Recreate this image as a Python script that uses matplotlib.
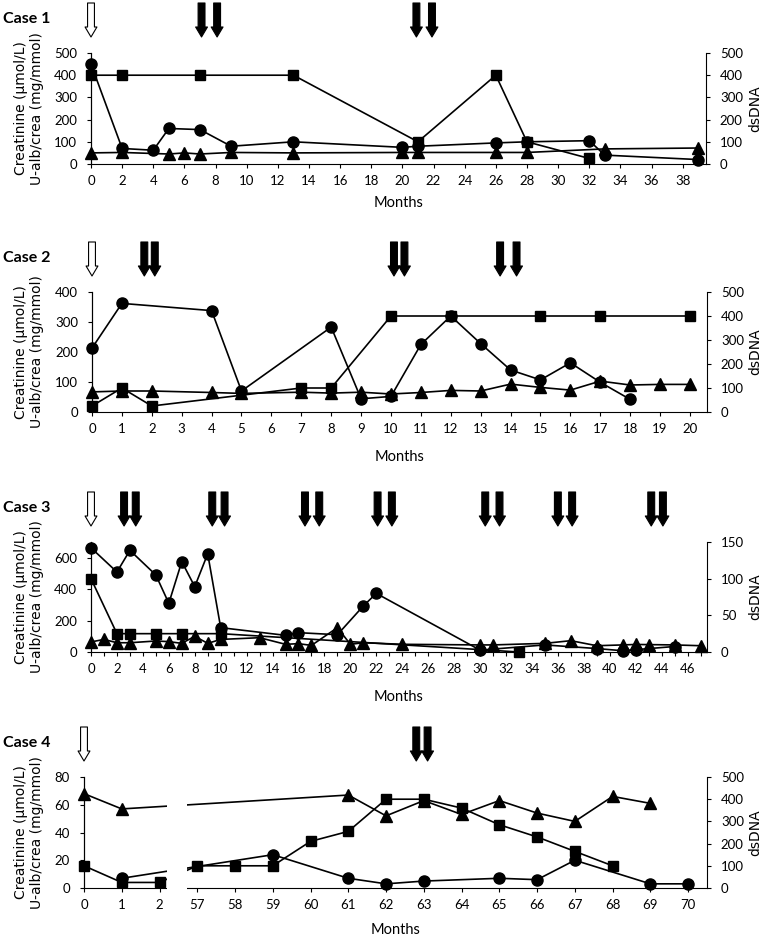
import matplotlib.pyplot as plt
from matplotlib.patches import Rectangle
from matplotlib.transforms import blended_transform_factory as blend

# ---------------- data ----------------
# circles / triangles on left axis (creatinine, U-alb/crea), squares on right axis (dsDNA)
c1_circ_m = [0, 2, 4, 5, 7, 9, 13, 20, 21, 26, 28, 32, 33, 39]
c1_circ_v = [450, 70, 62, 160, 155, 80, 100, 75, 80, 95, 100, 105, 40, 20]
c1_tri_m = [0, 2, 5, 6, 7, 9, 13, 20, 21, 26, 28, 33, 39]
c1_tri_v = [50, 52, 45, 50, 45, 52, 50, 52, 52, 52, 52, 68, 72]
c1_sq_m = [0, 2, 7, 13, 21, 26, 28, 32]
c1_sq_v = [400, 400, 400, 400, 100, 400, 100, 25]
c1_treat = [7.1, 8.1, 20.9, 21.9]

c2_circ_m = [0, 1, 4, 5, 8, 9, 10, 11, 12, 13, 14, 15, 16, 17, 18]
c2_circ_v = [213, 362, 338, 70, 283, 44, 52, 225, 320, 228, 140, 107, 164, 99, 42]
c2_tri_m = [0, 1, 2, 4, 5, 7, 8, 9, 10, 11, 12, 13, 14, 15, 16, 17, 18, 19, 20]
c2_tri_v = [67, 70, 70, 65, 62, 66, 63, 66, 60, 65, 72, 70, 93, 82, 73, 103, 90, 92, 92]
c2_sq_m = [0, 1, 2, 7, 8, 10, 12, 15, 17, 20]
c2_sq_v = [25, 100, 25, 100, 100, 400, 400, 400, 400, 400]
c2_treat = [1.75, 2.1, 10.1, 10.45, 13.65, 14.2]

c3_circ_m = [0, 2, 3, 5, 6, 7, 8, 9, 10, 15, 16, 19, 21, 22, 30, 35, 39, 41, 42, 45]
c3_circ_v = [663, 509, 647, 490, 310, 575, 416, 625, 155, 106, 123, 110, 293, 373,
             12, 45, 22, 8, 15, 35]
c3_tri_m = [0, 1, 2, 3, 5, 6, 7, 8, 9, 10, 13, 15, 16, 17, 19, 20, 21, 24, 30, 31,
            35, 37, 39, 41, 42, 43, 45, 47]
c3_tri_v = [64, 80, 59, 59, 70, 66, 55, 100, 55, 80, 91, 49, 53, 42, 155, 49, 59, 49,
            45, 45, 55, 72, 40, 45, 48, 47, 45, 40]
c3_sq_m = [0, 2, 3, 5, 7, 10, 33]
c3_sq_v = [100, 25, 25, 25, 25, 25, 0]
c3_treat = [2.55, 3.45, 9.35, 10.3, 16.5, 17.6, 22.1, 23.2, 30.4, 31.5, 36.0, 37.1, 43.2, 44.1]

c4_circ_m = [1, 59, 61, 62, 63, 65, 66, 67, 69, 70]
c4_circ_v = [7, 24, 7, 3, 5, 7, 6, 20, 3, 3]
c4_tri_m = [0, 1, 61, 62, 63, 64, 65, 66, 67, 68, 69]
c4_tri_v = [68, 57, 67, 52, 63, 53, 63, 54, 48, 66, 61]
c4_sq_m = [0, 1, 2, 57, 58, 59, 60, 61, 62, 63, 64, 65, 66, 67, 68]
c4_sq_v = [100, 25, 25, 100, 100, 100, 210, 255, 400, 400, 360, 285, 230, 165, 100]
c4_treat = [62.8, 63.1]
c4_months = [0, 1, 2] + list(range(57, 71))

ylabel = 'Creatinine (\u00b5mol/L)\nU-alb/crea (mg/mmol)'

W, H = 764, 938
plt.rcParams['font.family'] = ['Lato', 'DejaVu Sans']
fig = plt.figure(figsize=(W / 100, H / 100), dpi=100)


def add_axes(l, t, r, b):
    return fig.add_axes([l / W, 1 - b / H, (r - l) / W, (b - t) / H])


def arrow(ax, x, filled, pos):
    h = ax.get_position().height * H
    tr = blend(ax.transData, ax.transAxes)
    ax.annotate('', xy=(pos(x), 1 + 16 / h), xycoords=tr,
                xytext=(pos(x), 1 + 50 / h), textcoords=tr, annotation_clip=False,
                arrowprops=dict(arrowstyle='simple,head_length=0.8,head_width=0.95,tail_width=0.55',
                                mutation_scale=9, fc='black' if filled else 'white',
                                ec='black', lw=0.8, shrinkA=0, shrinkB=0))


def panel(box, name, circ, tri, sq, ylim, yticks, ylim2, yticks2, xlim, xticks, xlabels,
          treat, months_gap, pos=lambda m: m):
    l, t, r, b = box
    ax = add_axes(*box)
    ax2 = ax.twinx()
    kw = dict(color='black', lw=1.2, clip_on=False)
    ax.plot([pos(m) for m in circ[0]], circ[1], marker='o', ms=8, **kw)
    ax.plot([pos(m) for m in tri[0]], tri[1], marker='^', ms=8.5, **kw)
    ax2.plot([pos(m) for m in sq[0]], sq[1], marker='s', ms=7.5, **kw)

    ax.set_xlim(*xlim)
    ax.set_ylim(*ylim)
    ax2.set_ylim(*ylim2)
    ax.set_yticks(yticks)
    ax2.set_yticks(yticks2)
    ax.set_xticks(xticks)
    ax.set_xticklabels(xlabels)
    for a in (ax, ax2):
        a.spines['top'].set_visible(False)
        for s in a.spines.values():
            s.set_linewidth(0.8)
        a.tick_params(direction='out', length=3, width=0.8, labelsize=9.5, pad=7)
    ax.tick_params(axis='x', pad=5)
    ax.spines['right'].set_visible(False)
    ax2.spines['bottom'].set_visible(False)

    arrow(ax, 0, False, pos)
    for x in treat:
        arrow(ax, x, True, pos)

    yc = 1 - (t + b) / 2 / H
    fig.text(3 / W, 1 - (t - 34) / H, name, fontsize=11.5, fontweight='bold',
             ha='left', va='center')
    fig.text(29 / W, yc, ylabel, rotation=90, ha='center', va='center',
             multialignment='center', fontsize=10, family='DejaVu Sans')
    fig.text(755 / W, yc, 'dsDNA', rotation=90, ha='center', va='center',
             fontsize=10, family='DejaVu Sans')
    fig.text((l + r) / 2 / W, 1 - (b + months_gap) / H, 'Months', ha='center',
             va='center', fontsize=10.5)
    return ax, ax2


panel((91, 53, 706, 164), 'Case 1', (c1_circ_m, c1_circ_v), (c1_tri_m, c1_tri_v),
      (c1_sq_m, c1_sq_v), (0, 500), range(0, 501, 100), (0, 500), range(0, 501, 100),
      (0, 39.5), range(0, 39, 2), [str(v) for v in range(0, 39, 2)], c1_treat, 39)

panel((92, 292, 707, 412), 'Case 2', (c2_circ_m, c2_circ_v), (c2_tri_m, c2_tri_v),
      (c2_sq_m, c2_sq_v), (0, 400), range(0, 401, 100), (0, 500), range(0, 501, 100),
      (0, 20.57), range(0, 21), [str(v) for v in range(0, 21)], c2_treat, 45)

panel((91, 542, 707, 652), 'Case 3', (c3_circ_m, c3_circ_v), (c3_tri_m, c3_tri_v),
      (c3_sq_m, c3_sq_v), (0, 700), range(0, 601, 200), (0, 150), range(0, 151, 50),
      (0, 47.5), range(0, 48), [str(v) if v % 2 == 0 else '' for v in range(0, 48)],
      c3_treat, 45)


def pos4(m):
    return m if m <= 2 else m - 54


ax4, ax4b = panel((84, 777, 707, 888), 'Case 4', (c4_circ_m, c4_circ_v),
                  (c4_tri_m, c4_tri_v), (c4_sq_m, c4_sq_v), (0, 80), range(0, 81, 20),
                  (0, 500), range(0, 501, 100), (0, 16.5),
                  [pos4(m) for m in c4_months], [str(m) for m in c4_months],
                  c4_treat, 42, pos=pos4)
# break in the month axis between 2 and 57
ax4b.add_patch(Rectangle((2.2, -0.02), 0.53, 1.06,
                         transform=blend(ax4b.transData, ax4b.transAxes),
                         fc='white', ec='none', zorder=10, clip_on=False))

fig.savefig('out.png', dpi=100)
